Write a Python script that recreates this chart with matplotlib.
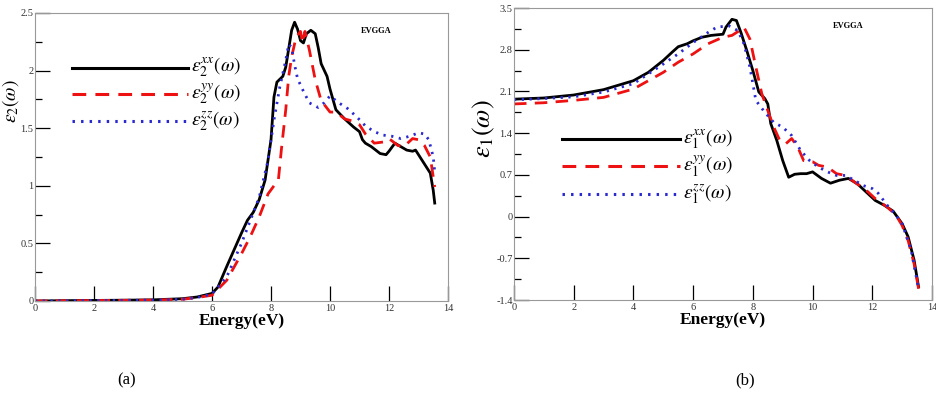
"""Dielectric function components (EVGGA): imaginary (a) and real (b) parts."""

import matplotlib

matplotlib.use("Agg")
import matplotlib.pyplot as plt
from matplotlib.ticker import MultipleLocator

plt.rcParams["font.family"] = ["Liberation Serif", "DejaVu Serif"]
plt.rcParams["mathtext.fontset"] = "stix"

# ---- panel (a): eps2 ----
e2_xx_E = [0, 1, 2, 3, 4, 5, 5.5, 6.0, 6.2, 6.5, 7.0, 7.2, 7.4, 7.6, 7.8, 8.0, 8.1, 8.2, 8.4, 8.5,
           8.7, 8.8, 8.9, 9.0, 9.1, 9.2, 9.35, 9.5, 9.6, 9.7, 9.9, 10.0, 10.2, 10.5, 10.8, 11.0,
           11.1, 11.2, 11.4, 11.7, 11.9, 12.0, 12.2, 12.4, 12.6, 12.8, 12.9, 13.0, 13.2, 13.4,
           13.5, 13.55]
e2_xx = [0.0, 0.003, 0.005, 0.007, 0.01, 0.02, 0.035, 0.066, 0.12, 0.30, 0.59, 0.70, 0.77, 0.88,
         1.05, 1.40, 1.77, 1.90, 1.95, 2.03, 2.35, 2.42, 2.36, 2.26, 2.24, 2.32, 2.35, 2.32, 2.20,
         2.06, 1.95, 1.84, 1.66, 1.58, 1.51, 1.47, 1.40, 1.37, 1.34, 1.28, 1.27, 1.30, 1.37, 1.34,
         1.31, 1.30, 1.31, 1.27, 1.19, 1.11, 0.96, 0.85]

e2_yy_E = [0, 1, 2, 3, 4, 5, 5.5, 6.0, 6.5, 7.0, 7.3, 7.6, 7.9, 8.1, 8.25, 8.35, 8.5, 8.6, 8.7,
           8.85, 9.0, 9.07, 9.15, 9.3, 9.5, 9.7, 10.0, 10.2, 10.5, 10.8, 11.0, 11.2, 11.5, 11.8,
           12.0, 12.3, 12.5, 12.8, 13.0, 13.2, 13.4, 13.55]
e2_yy = [0.0, 0.002, 0.004, 0.006, 0.008, 0.015, 0.03, 0.05, 0.18, 0.41, 0.56, 0.73, 0.93, 1.0,
         1.05, 1.31, 1.66, 1.95, 2.12, 2.29, 2.34, 2.24, 2.34, 2.18, 1.92, 1.74, 1.64, 1.64, 1.58,
         1.56, 1.53, 1.45, 1.37, 1.38, 1.41, 1.35, 1.34, 1.41, 1.40, 1.35, 1.25, 0.99]

e2_zz_E = [0, 1, 2, 3, 4, 5, 5.5, 6.0, 6.5, 7.0, 7.3, 7.6, 7.9, 8.1, 8.3, 8.5, 8.6, 8.7, 8.8,
           8.9, 9.1, 9.3, 9.6, 9.8, 10.0, 10.3, 10.6, 10.9, 11.2, 11.5, 11.8, 12.1, 12.4, 12.7,
           13.0, 13.2, 13.35, 13.5, 13.55]
e2_zz = [0.0, 0.002, 0.004, 0.006, 0.008, 0.015, 0.03, 0.06, 0.21, 0.50, 0.70, 0.90, 1.22, 1.57,
         1.86, 2.09, 2.23, 2.20, 2.05, 1.93, 1.82, 1.72, 1.68, 1.72, 1.78, 1.72, 1.67, 1.60, 1.52,
         1.47, 1.44, 1.43, 1.41, 1.43, 1.46, 1.45, 1.40, 1.25, 1.12]

# ---- panel (b): eps1 ----
e1_xx_E = [0, 1, 2, 3, 4, 4.5, 5.0, 5.3, 5.5, 5.8, 6.0, 6.3, 6.6, 7.0, 7.1, 7.3, 7.45, 7.6, 7.8,
           8.0, 8.2, 8.4, 8.5, 8.6, 8.8, 9.0, 9.2, 9.4, 9.6, 9.8, 10.0, 10.3, 10.6, 10.9, 11.2,
           11.5, 11.8, 12.1, 12.4, 12.7, 13.0, 13.2, 13.4, 13.55]
e1_xx = [1.97, 1.99, 2.04, 2.13, 2.28, 2.42, 2.62, 2.76, 2.85, 2.90, 2.95, 3.01, 3.04, 3.06, 3.18,
         3.31, 3.29, 3.09, 2.78, 2.45, 2.09, 1.98, 1.89, 1.56, 1.28, 0.94, 0.66, 0.71, 0.72, 0.72,
         0.75, 0.64, 0.56, 0.61, 0.64, 0.55, 0.41, 0.27, 0.19, 0.09, -0.12, -0.34, -0.73, -1.18]

e1_yy_E = [0, 1, 2, 3, 4, 4.5, 5.0, 5.5, 6.0, 6.5, 7.0, 7.3, 7.55, 7.7, 7.9, 8.1, 8.3, 8.5, 8.7,
           8.9, 9.1, 9.3, 9.5, 9.7, 10.0, 10.2, 10.5, 10.8, 11.1, 11.4, 11.8, 12.1, 12.5, 12.8,
           13.0, 13.2, 13.4, 13.55]
e1_yy = [1.89, 1.91, 1.95, 2.00, 2.14, 2.28, 2.42, 2.59, 2.73, 2.90, 3.01, 3.04, 3.12, 3.18, 2.98,
         2.51, 2.06, 1.78, 1.50, 1.28, 1.22, 1.31, 1.17, 0.94, 0.92, 0.86, 0.83, 0.72, 0.69, 0.58,
         0.44, 0.30, 0.16, 0.02, -0.15, -0.40, -0.79, -1.21]

e1_zz_E = [0, 1, 2, 3, 4, 5, 5.5, 6.0, 6.5, 6.8, 7.2, 7.5, 7.7, 7.9, 8.1, 8.4, 8.7, 9.0, 9.3,
           9.6, 9.9, 10.2, 10.5, 10.8, 11.1, 11.4, 11.7, 12.0, 12.2, 12.5, 12.8, 13.0, 13.3, 13.55]
e1_zz = [1.96, 1.98, 2.01, 2.09, 2.23, 2.56, 2.73, 2.92, 3.09, 3.18, 3.20, 3.12, 2.90, 2.51, 1.95,
         1.75, 1.58, 1.50, 1.36, 1.11, 0.94, 0.83, 0.75, 0.69, 0.69, 0.61, 0.52, 0.47, 0.39, 0.19,
         0.02, -0.12, -0.56, -1.21]

BLACK, RED, BLUE = "black", "#ee1111", "#2a2ad0"
DASH = (0, (4.5, 3))
DOT = (0, (0.8, 2.0))


def style_axes(ax, ymin, ymax, ymajor, yminor):
    ax.set_xlim(0, 14)
    ax.set_ylim(ymin, ymax)
    ax.xaxis.set_major_locator(MultipleLocator(2))
    ax.yaxis.set_major_locator(MultipleLocator(ymajor))
    ax.yaxis.set_minor_locator(MultipleLocator(yminor))
    ax.tick_params(which="major", direction="in", length=11, width=0.9, labelsize=7.5,
                   top=False, right=False, pad=2, labelcolor="#333333")
    ax.tick_params(which="minor", direction="in", length=5, width=0.9, top=False, right=False)
    ax.tick_params(axis="y", pad=1)
    ax.yaxis.set_major_formatter(plt.FuncFormatter(lambda v, p: f"{v:g}"))
    for s in ax.spines.values():
        s.set_color("#999999")
        s.set_linewidth(0.8)
    ax.set_xlabel("Energy(eV)", fontsize=12.5, fontweight="bold", labelpad=0)


def legend_rows(ax, x0, x1, ys, sub):
    styles = [(BLACK, "-"), (RED, DASH), (BLUE, DOT)]
    comps = ["xx", "yy", "zz"]
    for y, (c, ls), comp in zip(ys, styles, comps):
        ax.plot([x0, x1], [y, y], color=c, lw=2.2, ls=ls, transform=ax.transAxes, clip_on=False)
        ax.text(x1 + 0.008, y, rf"$\varepsilon_{sub}^{{{comp}}}(\omega)$", transform=ax.transAxes,
                fontsize=14, va="center", ha="left")


fig = plt.figure(figsize=(9.36, 3.96), dpi=100)
ax1 = fig.add_axes([35 / 936, 95 / 396, 413 / 936, 288 / 396])
ax2 = fig.add_axes([514 / 936, 96 / 396, 418 / 936, 292 / 396])

ax1.plot(e2_xx_E, e2_xx, color=BLACK, lw=2.0)
ax1.plot(e2_yy_E, e2_yy, color=RED, lw=2.0, ls=DASH)
ax1.plot(e2_zz_E, e2_zz, color=BLUE, lw=2.0, ls=DOT)
style_axes(ax1, 0, 2.5, 0.5, 0.25)
ax1.text(0.79, 0.93, "EVGGA", transform=ax1.transAxes, fontsize=6, fontweight="bold")
legend_rows(ax1, 0.09, 0.37, [0.81, 0.72, 0.625], "2")
fig.text(0.0, 0.745, r"$\varepsilon_2(\omega)$", rotation=90, fontsize=14, va="center", ha="left")

ax2.plot(e1_xx_E, e1_xx, color=BLACK, lw=2.0)
ax2.plot(e1_yy_E, e1_yy, color=RED, lw=2.0, ls=DASH)
ax2.plot(e1_zz_E, e1_zz, color=BLUE, lw=2.0, ls=DOT)
style_axes(ax2, -1.4, 3.5, 0.7, 0.35)
ax2.text(0.763, 0.93, "EVGGA", transform=ax2.transAxes, fontsize=6, fontweight="bold")
legend_rows(ax2, 0.115, 0.397, [0.55, 0.458, 0.363], "1")
fig.text(0.517, 0.675, r"$\varepsilon_1(\omega)$", rotation=90, fontsize=19, va="center", ha="center")

fig.text(127 / 936, 1 - 380 / 396, "(a)", fontsize=12, ha="center", va="center")
fig.text(745 / 936, 1 - 380 / 396, "(b)", fontsize=12, ha="center", va="center")

fig.savefig("out.png", dpi=100)
